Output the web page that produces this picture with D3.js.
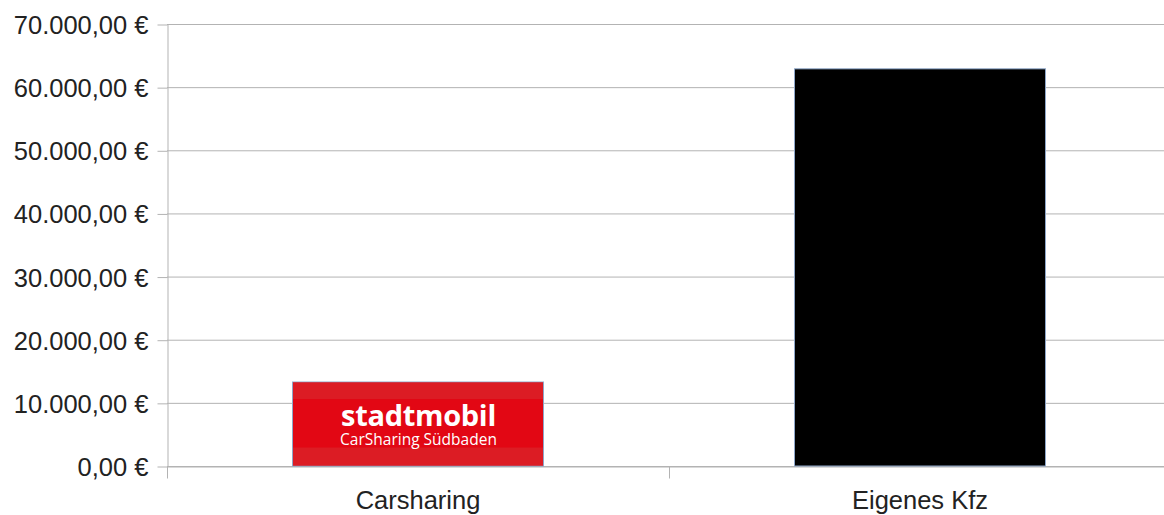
<!DOCTYPE html>
<html>
<head>
<meta charset="utf-8">
<script src="https://d3js.org/d3.v7.min.js"></script>
<style>
body { margin: 0; background: #fff; }
text { font-family: "Liberation Sans", Arial, sans-serif; fill: #222; }
.grid line { stroke: #b3b3b3; stroke-width: 1; }
.axis path, .axis line { stroke: #b3b3b3; fill: none; }
.axis text { font-size: 25.5px; }
</style>
</head>
<body>
<svg id="chart" width="1164" height="515"></svg>
<script>
// data
var categories = ["Carsharing", "Eigenes Kfz"];
var costs = [13300, 62900];
var barColors = ["#e20714", "#000000"];
var yTicks = [0, 10000, 20000, 30000, 40000, 50000, 60000, 70000];

var margin = {top: 24, left: 167, bottom: 49};
var width = 1171 - margin.left;
var height = 515 - margin.top - margin.bottom;

var svg = d3.select("#chart")
  .append("g")
  .attr("transform", "translate(" + margin.left + "," + margin.top + ")");

var x = d3.scaleBand().domain(categories).range([0, width]).paddingInner(0.5).paddingOuter(0.25);
var y = d3.scaleLinear().domain([0, 70000]).range([height, 0]);

var fmt = function(d) {
  var s = d3.format(",.2f")(d); // 70,000.00
  return s.replace(/,/g, "#").replace(".", ",").replace(/#/g, ".") + " €";
};

// gridlines
svg.append("g").attr("class", "grid")
  .selectAll("line").data(yTicks).enter().append("line")
  .attr("x1", 0).attr("x2", width)
  .attr("y1", function(d){ return y(d) + 0.5 })
  .attr("y2", function(d){ return y(d) + 0.5 });

// y axis
var yAxis = svg.append("g").attr("class", "axis")
  .attr("transform", "translate(0.5,0.5)")
  .call(d3.axisLeft(y).tickValues(yTicks).tickFormat(fmt).tickSize(10).tickPadding(9).tickSizeOuter(0));
yAxis.selectAll("text").attr("dy", "0.35em");

// x axis: ticks at band boundaries
var xb = d3.scaleLinear().domain([0, categories.length]).range([0, width]);
svg.append("g").attr("class", "axis")
  .attr("transform", "translate(0," + (height + 0.5) + ")")
  .call(d3.axisBottom(xb).ticks(categories.length).tickFormat("").tickSize(12).tickSizeOuter(0));

svg.append("g").selectAll("text").data(categories).enter().append("text")
  .attr("x", function(d){ return x(d) + x.bandwidth()/2 })
  .attr("y", height + 43)
  .attr("text-anchor", "middle")
  .style("font-size", "25.5px")
  .text(function(d){ return d });

// bars
svg.append("g").selectAll("rect").data(categories).enter().append("rect")
  .attr("x", function(d){ return x(d) })
  .attr("y", function(d, i){ return y(costs[i]) })
  .attr("width", x.bandwidth())
  .attr("height", function(d, i){ return height - y(costs[i]) })
  .attr("fill", function(d, i){ return barColors[i] })
  .attr("stroke", "#8ea6c8")
  .attr("stroke-width", 1);

// stadtmobil logo on the carsharing bar
var bx = x(categories[0]), bw = x.bandwidth();
var by = y(costs[0]), bh = height - by;
var logo = svg.append("g");
logo.append("rect").attr("x", bx + 0.5).attr("y", by + 0.5).attr("width", bw - 1).attr("height", bh * 0.197).attr("fill", "#dc1c24");
logo.append("rect").attr("x", bx + 0.5).attr("y", by + bh * 0.78).attr("width", bw - 1).attr("height", bh * 0.22 - 0.5).attr("fill", "#dc1c24");
var cx = bx + bw / 2;
logo.append("text")
  .attr("x", cx + 0.5).attr("y", by + bh * 0.52)
  .attr("text-anchor", "middle")
  .style("font-family", "'Open Sans', 'DejaVu Sans', sans-serif")
  .style("font-weight", "bold")
  .style("font-size", "29px")
  .style("letter-spacing", "-0.3px")
  .style("fill", "#fff")
  .text("stadtmobil");
logo.append("text")
  .attr("x", cx + 0.5).attr("y", by + bh * 0.745)
  .attr("text-anchor", "middle")
  .style("font-family", "'Open Sans', 'DejaVu Sans', sans-serif")
  .style("font-size", "15.5px")
  .style("fill", "#fff")
  .text("CarSharing Südbaden");
</script>
</body>
</html>
